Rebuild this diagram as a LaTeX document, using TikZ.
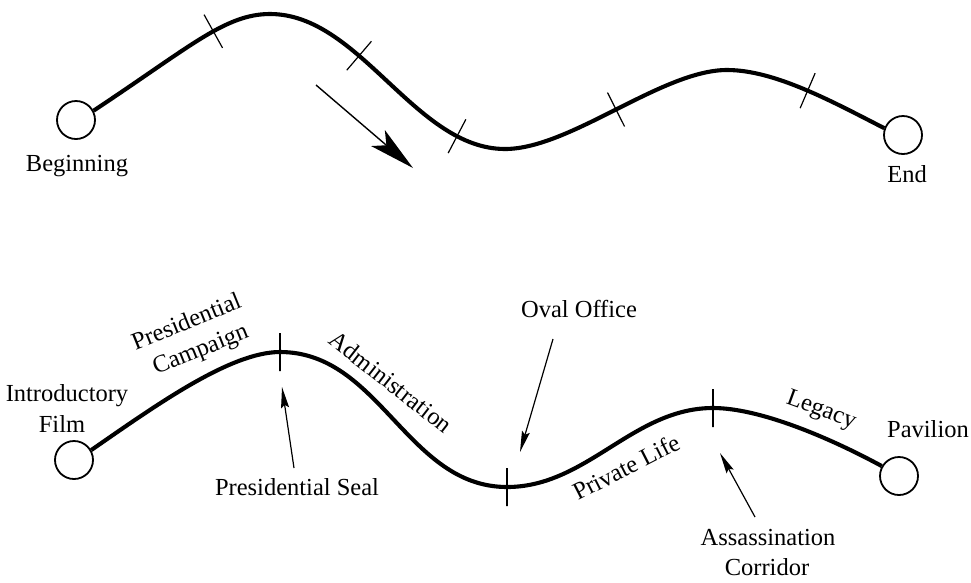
\documentclass[tikz,border=0pt]{standalone}
\usepackage{fontspec}
\setmainfont{Liberation Serif}
\usetikzlibrary{arrows.meta}

\tikzset{
  route/.style={line width=4.1pt},
  stopcircle/.style={circle, draw, line width=1.8pt, minimum size=38pt, inner sep=0pt},
  tickmark/.style={draw, line width=1.2pt, rectangle, minimum width=0pt,
                   minimum height=38pt, inner sep=0pt, sloped, allow upside down},
  lbl/.style={font=\fontsize{24.5}{29}\selectfont, inner sep=1pt},
  ptr/.style={line width=1.2pt, -{Stealth[length=21pt,width=8pt,inset=3pt]}},
  flow/.style={line width=1.4pt, -{Stealth[length=46pt,width=21pt,inset=11pt]}}
}

\begin{document}
\begin{tikzpicture}[x=1pt,y=-1pt]
\useasboundingbox (0,0) rectangle (971,582);

% ---------- generic path: beginning to end ----------
\node[stopcircle] (beg) at (76,120) {};
\node[stopcircle] (fin) at (903,135) {};

\draw[route] (beg.28)
  .. controls (190,47) and (225,14) .. node[tickmark,pos=0.58] (k1) {} (270,14)
  .. controls (360,14) and (415,149) .. node[tickmark,pos=0.37] (k2) {}
                                        node[tickmark,pos=0.81] (k3) {} (505,149)
  .. controls (570,149) and (662,70) .. node[tickmark,pos=0.5] (k4) {} (727,70)
  .. controls (775,70) and (833,102) .. node[tickmark,pos=0.52] (k5) {} (fin.160);

\node[lbl, anchor=base] (lbeg) at (77,171) {Beginning};
\node[lbl, anchor=base] (lfin) at (907,182) {End};

% direction of travel
\coordinate (flowtail) at (316,85);
\coordinate (flowtip) at (413,168);
\draw[flow] (flowtail) -- (flowtip);

% ---------- museum route ----------
\node[stopcircle] (film) at (74,460) {};
\node[stopcircle] (pav) at (899,476) {};

\draw[route] (film.30)
  .. controls (155,406) and (230,352) .. node[tickmark,pos=1] (seal) {} (280,352)
  .. controls (380,352) and (407,487) .. node[tickmark,pos=1] (oval) {} (507,487)
  .. controls (587,487) and (633,408) .. node[tickmark,pos=1] (assn) {} (713,408)
  .. controls (760,408) and (830,438) .. (pav.150);

% stop names
\node[lbl, anchor=base] (lintro) at (67,401) {Introductory};
\node[lbl, anchor=base] (lfilm) at (62,432) {Film};
\node[lbl, anchor=base] (lpav) at (928,437) {Pavilion};

% section names along the route
\node[lbl, rotate=22] (lpres) at (186,321) {Presidential};
\node[lbl, rotate=22] (lcamp) at (201,351) {Campaign};
\node[lbl, rotate=-38] (ladmin) at (391,382) {Administration};
\node[lbl, rotate=27] (lpriv) at (626,467) {Private Life};
\node[lbl, rotate=-20] (lleg) at (821,411) {Legacy};

% labelled transitions
\node[lbl, anchor=base] (lseal) at (297,495) {Presidential Seal};
\node[lbl, anchor=base] (loval) at (579,317) {Oval Office};
\node[lbl, anchor=base] (lassn) at (768,545) {Assassination};
\node[lbl, anchor=base] (lcorr) at (767,575) {Corridor};

\coordinate (sealtail) at (294,468);
\coordinate (sealtip) at (282,387);
\coordinate (ovaltail) at (553,339);
\coordinate (ovaltip) at (520,452);
\coordinate (assntail) at (755,517);
\coordinate (assntip) at (720,453);

\draw[ptr] (sealtail) -- (sealtip);
\draw[ptr] (ovaltail) -- (ovaltip);
\draw[ptr] (assntail) -- (assntip);
\end{tikzpicture}
\end{document}
